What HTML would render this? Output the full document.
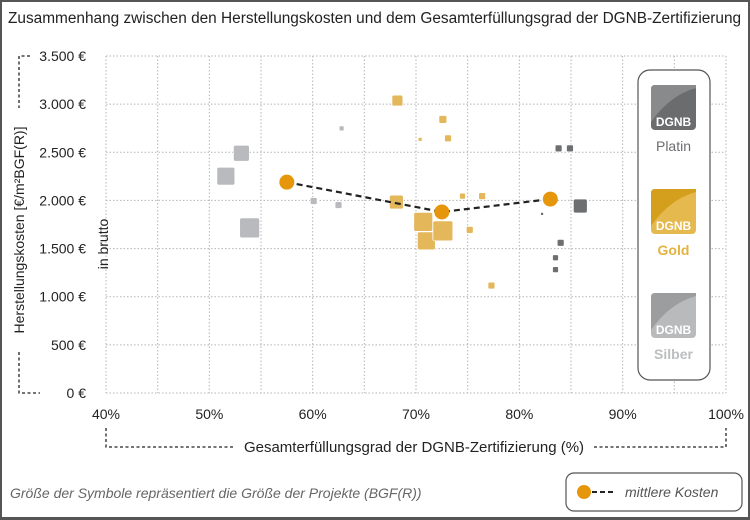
<!DOCTYPE html>
<html><head><meta charset="utf-8">
<style>
body{margin:0;background:#fff;}
#wrap{position:relative;width:750px;height:520px;box-sizing:border-box;border:2px solid #555;border-bottom-width:3px;background:#fff;font-family:"Liberation Sans",sans-serif;overflow:hidden;}
svg{position:absolute;left:-2px;top:-2px;}
</style></head><body>
<div id="wrap">
<svg id="chart" width="750" height="520" font-family="Liberation Sans, sans-serif">
<text x="8" y="23" font-size="15.4" fill="#222">Zusammenhang zwischen den Herstellungskosten und dem Gesamterfüllungsgrad der DGNB-Zertifizierung</text>
<g id="grid"></g>
<g id="yaxis"></g>
<g id="xaxis"></g>
<path d="M30,56 H19 V108 M19,352 V393 H40" fill="none" stroke="#222" stroke-width="1.3" stroke-dasharray="3,2.5"/>
<text transform="translate(24,230) rotate(-90)" text-anchor="middle" font-size="14" fill="#222">Herstellungskosten [€/m²BGF(R)]</text>
<text transform="translate(108,244) rotate(-90)" text-anchor="middle" font-size="14" fill="#222">in brutto</text>
<path d="M106,428 V447 H234 M594,447 H726 V428" fill="none" stroke="#222" stroke-width="1.3" stroke-dasharray="3,2.5"/>
<text x="414" y="452" text-anchor="middle" font-size="15" fill="#222">Gesamterfüllungsgrad der DGNB-Zertifizierung (%)</text>
<g id="points"></g>
<g id="means"></g>
<g>
<rect x="638" y="70" width="72" height="310" rx="12" fill="#fff" stroke="#555" stroke-width="1.2"/>
<g>
<rect x="651" y="85" width="45" height="45" rx="4" fill="#6b6c6e"/>
<path d="M651,122 Q670,95 696,88 V85 H655 Q651,85 651,89Z" fill="#888a8c"/>
<text x="673.5" y="126" text-anchor="middle" font-size="12" font-weight="bold" fill="#fff">DGNB</text>
<text x="673.5" y="151" text-anchor="middle" font-size="14" fill="#6b6c6e">Platin</text>
</g>
<g>
<rect x="651" y="189" width="45" height="45" rx="4" fill="#e6b94f"/>
<path d="M651,226 Q670,199 696,192 V189 H655 Q651,189 651,193Z" fill="#d39f1c"/>
<text x="673.5" y="230" text-anchor="middle" font-size="12" font-weight="bold" fill="#fff">DGNB</text>
<text x="673.5" y="255" text-anchor="middle" font-size="14" font-weight="bold" fill="#e3b240">Gold</text>
</g>
<g>
<rect x="651" y="293" width="45" height="45" rx="4" fill="#b9babc"/>
<path d="M651,330 Q670,303 696,296 V293 H655 Q651,293 651,297Z" fill="#9c9d9f"/>
<text x="673.5" y="334" text-anchor="middle" font-size="12" font-weight="bold" fill="#fff">DGNB</text>
<text x="673.5" y="359" text-anchor="middle" font-size="14" font-weight="bold" fill="#bcbdbf">Silber</text>
</g>
</g>
<text x="10" y="498" font-size="14" font-style="italic" fill="#666">Größe der Symbole repräsentiert die Größe der Projekte (BGF(R))</text>
<g>
<rect x="566" y="473" width="176" height="38" rx="8" fill="#fff" stroke="#555" stroke-width="1.2"/>
<line x1="584" y1="492" x2="614" y2="492" stroke="#222" stroke-width="2" stroke-dasharray="5,3"/>
<circle cx="584" cy="492" r="7" fill="#e5960b"/>
<text x="625" y="497" font-size="14" font-style="italic" fill="#555">mittlere Kosten</text>
</g>
</svg>
</div>
<script>
const xTicks=[40,50,60,70,80,90,100];
const yTicks=[0,500,1000,1500,2000,2500,3000,3500];
const yTickLabels=["0 €","500 €","1.000 €","1.500 €","2.000 €","2.500 €","3.000 €","3.500 €"];
const silberX=[53.1,51.6,53.9,60.1,62.5,62.8];
const silberY=[2490,2252,1715,1994,1952,2748];
const silberSize=[16,18,20,7,7,5];
const goldX=[68.2,68.1,72.6,70.4,73.1,70.7,71.0,72.6,74.5,76.4,75.2,77.3];
const goldY=[3037,1983,2841,2634,2645,1777,1580,1684,2045,2045,1694,1116];
const goldSize=[11,14,8,4,7,19,18,20,6,7,7,7];
const platinX=[83.8,84.9,82.2,85.9,84.0,83.5,83.5];
const platinY=[2541,2541,1860,1942,1560,1405,1281];
const platinSize=[7,7,3,14,7,6,6];
const meanX=[57.5,72.5,83.0];
const meanY=[2190,1880,2014];

const NS="http://www.w3.org/2000/svg";
const X0=106,X1=726,Y0=393,Y1=56;
const xs=v=>X0+(v-40)/60*(X1-X0);
const ys=v=>Y0-v/3500*(Y0-Y1);
function mk(tag,attrs,parent){const e=document.createElementNS(NS,tag);for(const k in attrs)e.setAttribute(k,attrs[k]);parent.appendChild(e);return e;}
const grid=document.getElementById('grid');
for(let p=40;p<=100;p+=5){
  const l=mk('line',{x1:xs(p),x2:xs(p),y1:Y1,y2:Y0,stroke:'#b5b5b5','stroke-width':1,'stroke-dasharray':'1.5,2'},grid);
  
  
}
for(let v=0;v<=3500;v+=500){
  const l=mk('line',{x1:X0,x2:X1,y1:ys(v),y2:ys(v),stroke:'#b5b5b5','stroke-width':1,'stroke-dasharray':'1.5,2'},grid);
  
  
}
const xa=document.getElementById('xaxis');
xTicks.forEach(t=>{
  const e=mk('text',{x:xs(t),y:419,'text-anchor':'middle','font-size':14,fill:'#222'},xa);
  e.textContent=t+'%';
  
  
});
const ya=document.getElementById('yaxis');
yTicks.forEach((t,i)=>{
  const e=mk('text',{x:86,y:ys(t)+5,'text-anchor':'end','font-size':14,fill:'#222'},ya);
  e.textContent=yTickLabels[i];
  
  
});
const pts=document.getElementById('points');
function series(X,Y,S,color,name){
  X.forEach((x,i)=>{
    const s=S[i];
    const r=mk('rect',{x:xs(x)-s/2,y:ys(Y[i])-s/2,width:s,height:s,rx:Math.min(2,s/5),fill:color,stroke:'#fff','stroke-width':0.8},pts);
    
    
  });
}
series(silberX,silberY,silberSize,'#b8babd','point-silber');
series(goldX,goldY,goldSize,'#e3b75a','point-gold');
series(platinX,platinY,platinSize,'#6e6f71','point-platin');
const mg=document.getElementById('means');
const pl=mk('polyline',{points:meanX.map((x,i)=>xs(x)+','+ys(meanY[i])).join(' '),fill:'none',stroke:'#222','stroke-width':2.2,'stroke-dasharray':'6,4'},mg);


meanX.forEach((x,i)=>{
  const c=mk('circle',{cx:xs(x),cy:ys(meanY[i]),r:7.5,fill:'#e5960b'},mg);
  
  
});
</script>
</body></html>
